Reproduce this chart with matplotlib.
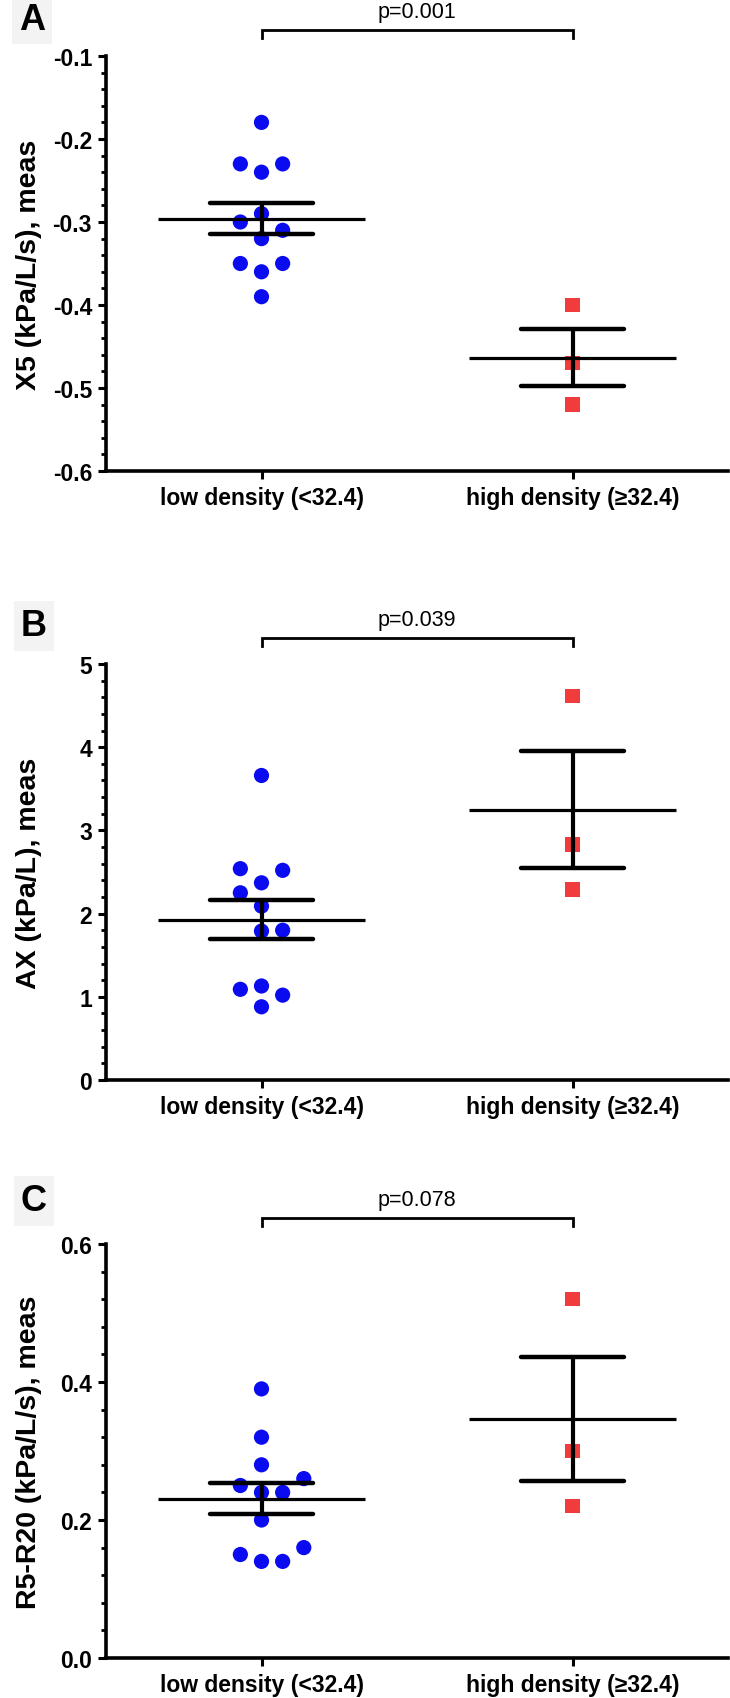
import numpy as np
import matplotlib
matplotlib.use("Agg")
import matplotlib.pyplot as plt
from matplotlib.ticker import MultipleLocator, FormatStrFormatter

plt.rcParams['font.family'] = ['Liberation Sans', 'DejaVu Sans']
plt.rcParams['axes.unicode_minus'] = False

# ---------------- data ----------------
categories = ["low density (<32.4)", "high density (\u226532.4)"]

x5_low = [-0.18, -0.23, -0.23, -0.24, -0.29, -0.30, -0.31, -0.32, -0.35, -0.35, -0.36, -0.39]
x5_high = [-0.40, -0.47, -0.52]

ax_low = [3.66, 2.54, 2.52, 2.37, 2.25, 2.09, 1.79, 1.80, 1.09, 1.13, 1.02, 0.88]
ax_high = [4.62, 2.83, 2.29]

r5r20_low = [0.39, 0.32, 0.28, 0.26, 0.25, 0.24, 0.24, 0.20, 0.16, 0.15, 0.14, 0.14]
r5r20_high = [0.52, 0.30, 0.22]

p_values = ["p=0.001", "p=0.039", "p=0.078"]
panel_letters = ["A", "B", "C"]
y_labels = ["X5 (kPa/L/s), meas", "AX (kPa/L), meas", "R5-R20 (kPa/L/s), meas"]

# beeswarm slot of each low-density point (layout, not data)
x5_slots = [0, -1, 1, 0, 0, -1, 1, 0, -1, 1, 0, 0]
ax_slots = [0, -1, 1, 0, -1, 0, 0, 1, -1, 0, 1, 0]
r5_slots = [0, 0, 0, 2, -1, 0, 1, 0, 2, -1, 0, 1]

panels = [
    dict(low=x5_low, high=x5_high, slots=x5_slots, ylim=(-0.6, -0.1), major=0.1, minor=0.02, fmt='%.1f'),
    dict(low=ax_low, high=ax_high, slots=ax_slots, ylim=(0, 5), major=1, minor=0.2, fmt='%d'),
    dict(low=r5r20_low, high=r5r20_high, slots=r5_slots, ylim=(0, 0.6), major=0.2, minor=0.04, fmt='%.1f'),
]

W, H = 730, 1699
fig = plt.figure(figsize=(W / 100, H / 100), dpi=100)

left_px, right_px = 106, 728
tops = [57, 665, 1245]
bottoms = [472, 1081, 1659]
letter_pos = [(32, 20), (34, 627), (34, 1202)]

blue = '#0B0BF0'
red = '#F03C3C'
slot_w = 0.068

def mean_sem(v):
    v = np.asarray(v, float)
    return v.mean(), v.std(ddof=1) / np.sqrt(len(v))

for i, p in enumerate(panels):
    b = 1 - bottoms[i] / H
    h = (bottoms[i] - tops[i]) / H
    ax = fig.add_axes([left_px / W, b, (right_px - left_px) / W, h])
    ax.set_xlim(-0.5, 1.5)
    ax.set_ylim(*p['ylim'])

    # points
    xs_low = 0 + np.array(p['slots']) * slot_w
    ax.scatter(xs_low, p['low'], s=120, marker='o', color=blue, edgecolors='none', zorder=2)
    ax.scatter(np.ones(len(p['high'])), p['high'], s=105, marker='s', color=red, edgecolors='none', zorder=2)

    # mean +/- SEM
    for xc, vals in [(0, p['low']), (1, p['high'])]:
        m, se = mean_sem(vals)
        ax.hlines(m, xc - 0.334, xc + 0.334, color='black', lw=2.3, zorder=3)
        ax.hlines([m - se, m + se], xc - 0.165, xc + 0.165, color='black', lw=3.2,
                  zorder=3, capstyle='round')
        ax.vlines(xc, m - se, m + se, color='black', lw=3.0, zorder=3)

    # significance bracket
    ax.plot([0, 0, 1, 1], [1.0434, 1.0627, 1.0627, 1.0434], color='black', lw=2.0,
            transform=ax.get_xaxis_transform(), clip_on=False, solid_joinstyle='miter')
    ax.text(0.5, 1.108, p_values[i], transform=ax.get_xaxis_transform(), ha='center',
            va='center', fontsize=15.5)

    # axes styling
    for s in ['top', 'right']:
        ax.spines[s].set_visible(False)
    for s in ['left', 'bottom']:
        ax.spines[s].set_linewidth(2.6)
    ax.yaxis.set_major_locator(MultipleLocator(p['major']))
    ax.yaxis.set_minor_locator(MultipleLocator(p['minor']))
    ax.yaxis.set_major_formatter(FormatStrFormatter(p['fmt']))
    ax.tick_params(axis='y', which='major', length=6, width=2.2, labelsize=16.5, pad=4)
    ax.tick_params(axis='y', which='minor', length=3.8, width=2.0)
    ax.set_xticks([0, 1])
    ax.set_xticklabels(categories)
    ax.tick_params(axis='x', which='major', length=6, width=2.2, labelsize=16.5, pad=5)
    for lab in ax.get_xticklabels() + ax.get_yticklabels():
        lab.set_fontweight('bold')
    ax.set_ylabel(y_labels[i], fontsize=20.5, fontweight='bold')
    ax.yaxis.set_label_coords(-0.103, 0.5)

    lx, ly = letter_pos[i]
    fig.text(lx / W, 1 - ly / H, panel_letters[i], fontsize=26, fontweight='bold',
             ha='center', va='center',
             bbox=dict(boxstyle='square,pad=0.2', facecolor='#f3f3f3', edgecolor='none'))

fig.savefig('out.png', dpi=100)
